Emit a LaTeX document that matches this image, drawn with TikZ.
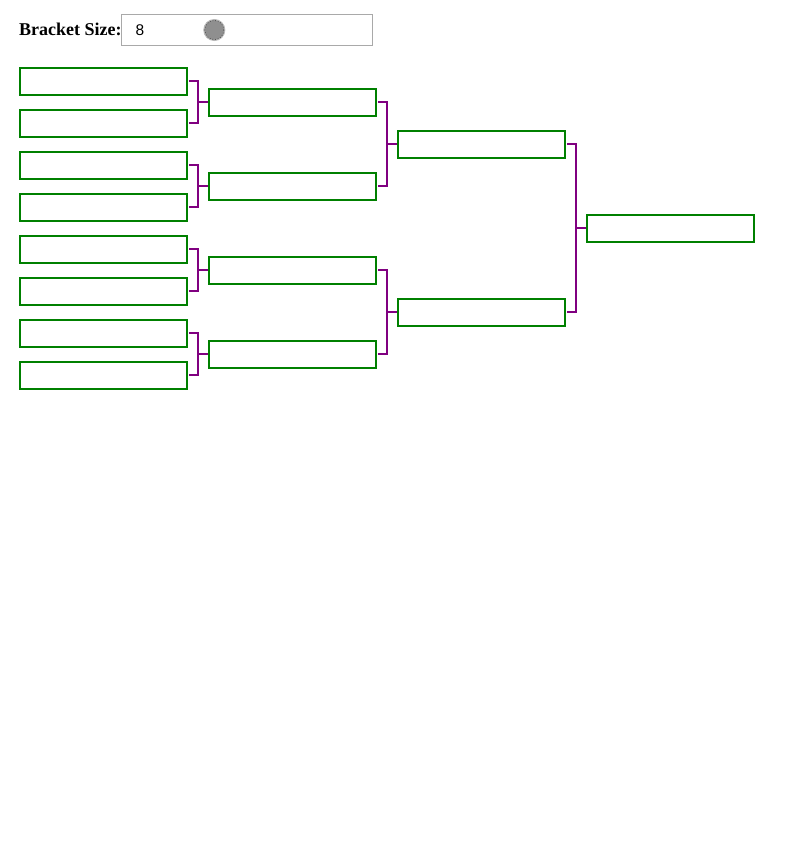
\documentclass[tikz,border=0pt]{standalone}
\usepackage{fontspec}
\setmainfont{Liberation Serif}
\newfontfamily\uisans{Liberation Sans}
\definecolor{boxgreen}{HTML}{008000}
\definecolor{linkpurple}{HTML}{800080}
\definecolor{fieldgray}{HTML}{A9A9A9}
\definecolor{knobgray}{HTML}{8F8F8F}
\begin{document}
\begin{tikzpicture}[x=1pt,y=-1pt,
  slot/.style={draw=boxgreen, line width=2pt, rectangle, minimum width=167pt, minimum height=27pt, inner sep=0pt},
  conn/.style={draw=linkpurple, line width=2pt},
]
\useasboundingbox (0,0) rectangle (785,847);
% header
\node[anchor=base west, inner sep=0pt, font=\fontsize{18}{20}\selectfont\bfseries] (label) at (19,35.5) {Bracket Size:};
\node[draw=fieldgray, line width=1pt, rectangle, minimum width=251pt, minimum height=31pt, inner sep=0pt] (sizebox) at (247,30) {};
\node[anchor=base west, inner sep=0pt, font=\uisans\fontsize{15.5}{18}\selectfont] (sizeval) at (135.5,35.5) {8};
\node[circle, fill=knobgray, draw=gray!55, line width=1pt, minimum size=21pt, inner sep=0pt] (knob) at (214.3,30) {};
\draw[black!75, line width=0.7pt, dotted] (knob.center) circle (9.6);
% round 1
\foreach \n/\y in {a/81.3,b/123.3,c/165.3,d/207.3,e/249.3,f/291.3,g/333.3,h/375.3}
  \node[slot] (r1\n) at (103.5,\y) {};
% round 2
\foreach \n/\y in {a/102.3,b/186.3,c/270.3,d/354.3}
  \node[slot] (r2\n) at (292.5,\y) {};
% round 3
\foreach \n/\y in {a/144.3,b/312.3}
  \node[slot] (r3\n) at (481.5,\y) {};
% final
\node[slot] (r4) at (670.5,228.3) {};
% connectors
\foreach \a/\b/\t in {r1a/r1b/r2a, r1c/r1d/r2b, r1e/r1f/r2c, r1g/r1h/r2d, r2a/r2b/r3a, r2c/r2d/r3b, r3a/r3b/r4}{
  \draw[conn] ([xshift=1pt]\a.east) -- ([xshift=9.5pt]\a.east) -- ([xshift=9.5pt]\b.east) -- ([xshift=1pt]\b.east);
  \draw[conn] ([xshift=9.5pt]\a.east |- \t.west) -- (\t.west);
}
\end{tikzpicture}
\end{document}
